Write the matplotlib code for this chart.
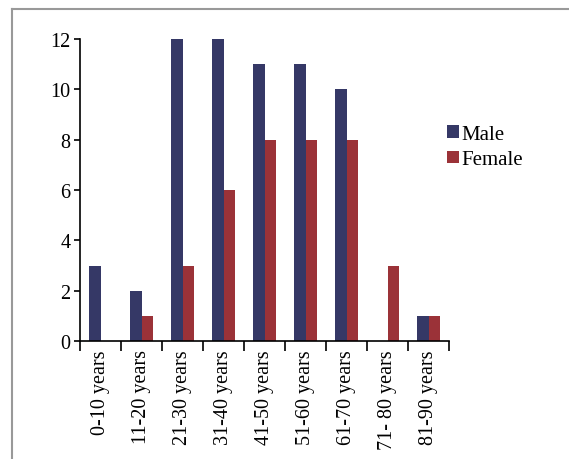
import numpy as np
import matplotlib.pyplot as plt
from matplotlib.lines import Line2D

# age groups and counts per sex
age_groups = ["0-10 years", "11-20 years", "21-30 years", "31-40 years",
              "41-50 years", "51-60 years", "61-70 years", "71- 80 years",
              "81-90 years"]
male = [3, 2, 12, 12, 11, 11, 10, 0, 1]
female = [0, 1, 3, 6, 8, 8, 8, 3, 1]

plt.rcParams['font.family'] = ['Liberation Serif', 'DejaVu Serif']

fig = plt.figure(figsize=(5.69, 4.60), dpi=100)
ax = fig.add_axes([80 / 569, 1 - 342 / 460, 369 / 569, 302 / 460])

x = np.arange(len(age_groups))
w = 0.27
ax.bar(x - w / 2, male, w, color="#353866", label="Male")
ax.bar(x + w / 2, female, w, color="#9b3238", label="Female")

ax.set_xlim(-0.5, len(age_groups) - 0.5)
ax.set_ylim(0, 12)
ax.set_yticks(range(0, 13, 2))
ax.set_xticks(np.arange(len(age_groups) + 1) - 0.5)
ax.set_xticklabels([])
ax.set_xticks(x, minor=True)
ax.set_xticklabels(age_groups, minor=True, rotation=90, fontsize=14.5)
ax.tick_params(axis="x", which="minor", length=0, pad=6)
ax.tick_params(axis="x", which="major", length=7, width=1.2, direction="out")
ax.tick_params(axis="y", length=4, width=1.2, labelsize=14.5, pad=3)

for s in ["top", "right"]:
    ax.spines[s].set_visible(False)
for s in ["left", "bottom"]:
    ax.spines[s].set_linewidth(1.2)

ax.legend(loc="upper left", bbox_to_anchor=(0.995, 0.715), frameon=False,
          fontsize=15, handlelength=0.55, handleheight=0.55, handletextpad=0.15,
          labelspacing=0.3, borderpad=0, borderaxespad=0)

# outer frame (top and left only)
fig.add_artist(Line2D([12 / 569, 12 / 569], [0, 1 - 10 / 460],
                      transform=fig.transFigure, color="#999999", lw=1.5))
fig.add_artist(Line2D([12 / 569, 1], [1 - 10 / 460, 1 - 10 / 460],
                      transform=fig.transFigure, color="#999999", lw=1.5))

fig.savefig("out.png", dpi=100)
